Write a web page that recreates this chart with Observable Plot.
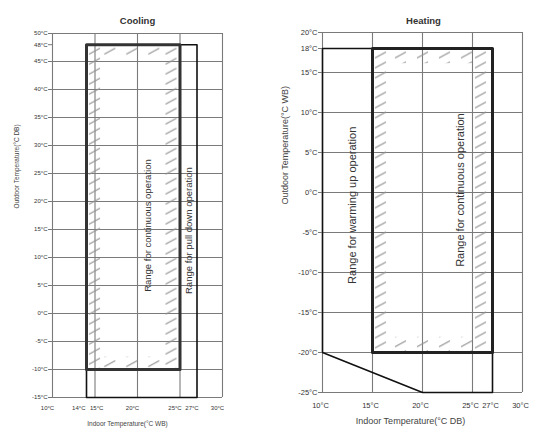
<!DOCTYPE html>
<html>
<head>
<meta charset="utf-8">
<script src="https://cdn.jsdelivr.net/npm/d3@7"></script>
<script src="https://cdn.jsdelivr.net/npm/@observablehq/plot@0.6"></script>
<style>
  html, body { margin: 0; padding: 0; background: #fff; }
  #wrap { position: relative; width: 536px; height: 432px; overflow: hidden; }
  #cool, #heat { position: absolute; top: 0; }
  #cool { left: 0; }
  #heat { left: 268px; }
</style>
</head>
<body>
<div id="wrap"><div id="cool"></div><div id="heat"></div></div>
<script>
// ---------- Cooling data ----------
const coolTitle = "Cooling";
const coolXLabel = "Indoor Temperature(°C WB)";
const coolYLabel = "Outdoor Temperature(°C DB)";
const coolXTicksMid = [10, 20, 25, 27, 30];
const coolXTickLeft = [14];   // label set to the left of its line
const coolXTickRight = [15];  // label set to the right of its line
const coolYTicks = [50, 48, 45, 40, 35, 30, 25, 20, 15, 10, 5, 0, -5, -10, -15];
const coolGridX = [10, 15, 20, 25, 30];
const coolGridY = [50, 45, 40, 35, 30, 25, 20, 15, 10, 5, 0, -5, -10, -15];
const coolContX = [14, 25, 25, 14, 14];
const coolContY = [48, 48, -10, -10, 48];
const coolPullX = [14, 27, 27, 14, 14];
const coolPullY = [48, 48, -15, -15, 48];
const coolHatchX1 = [14, 23, 15.8, 15.8];
const coolHatchX2 = [15.8, 25, 23, 23];
const coolHatchY1 = [-10, -10, 45.8, -10];
const coolHatchY2 = [48, 48, 48, -7.8];
const coolNoteText = ["Range for continuous operation", "Range for pull down operation"];
const coolNoteX = [21.2, 26.0];
const coolNoteY = [15.7, 14.8];

// ---------- Heating data ----------
const heatTitle = "Heating";
const heatXLabel = "Indoor Temperature(°C DB)";
const heatYLabel = "Outdoor Temperature(°C WB)";
const heatXTicks = [10, 15, 20, 25, 27, 30];
const heatYTicks = [20, 18, 15, 10, 5, 0, -5, -10, -15, -20, -25];
const heatGridX = [10, 15, 20, 25, 30];
const heatGridY = [20, 15, 10, 5, 0, -5, -10, -15, -20, -25];
const heatContX = [15, 27, 27, 15, 15];
const heatContY = [18, 18, -20, -20, 18];
const heatWarmX = [10, 27, 27, 20, 10, 10];
const heatWarmY = [18, 18, -25, -25, -20, 18];
const heatHatchX1 = [15, 25, 17, 17];
const heatHatchX2 = [17, 27, 25, 25];
const heatHatchY1 = [-20, -20, 16.1, -20];
const heatHatchY2 = [18, 18, 18, -18.1];
const heatNoteText = ["Range for warming up operation", "Range for continuous operation"];
const heatNoteX = [13.0, 23.8];
const heatNoteY = [-1.6, 0.3];

const FONT = "Liberation Sans, Arial, sans-serif";
const GRID = "#7a7a7a";
const fmt = d => `${d}°C`;
const zipXY = (xs, ys) => xs.map((x, i) => ({x, y: ys[i]}));
const zipRect = (a, b, c, d) => a.map((x1, i) => ({x1, x2: b[i], y1: c[i], y2: d[i]}));
const zipNote = (t, xs, ys) => t.map((text, i) => ({text, x: xs[i], y: ys[i]}));

// one rect mark per hatched strip, each with its own pattern id
function hatchMarks(strips, prefix) {
  return strips.map((s, i) => Plot.rect([s], {x1: "x1", x2: "x2", y1: "y1", y2: "y2", fill: `url(#${prefix}${i})`}));
}

// patterns anchored at each strip's top-left corner (through the chart's own scales)
function addPatterns(svg, strips, prefix) {
  const ns = "http://www.w3.org/2000/svg";
  const sx = svg.scale("x"), sy = svg.scale("y");
  const defs = document.createElementNS(ns, "defs");
  strips.forEach((s, i) => {
    const pat = document.createElementNS(ns, "pattern");
    pat.setAttribute("id", prefix + i);
    pat.setAttribute("patternUnits", "userSpaceOnUse");
    pat.setAttribute("x", sx.apply(s.x1));
    pat.setAttribute("y", sy.apply(s.y2) + 1.5);
    pat.setAttribute("width", "22");
    pat.setAttribute("height", "10");
    const ln = document.createElementNS(ns, "line");
    ln.setAttribute("x1", "3"); ln.setAttribute("y1", "8.5");
    ln.setAttribute("x2", "14"); ln.setAttribute("y2", "2.5");
    ln.setAttribute("stroke", "#929292");
    ln.setAttribute("stroke-width", "1.1");
    pat.appendChild(ln);
    defs.appendChild(pat);
  });
  svg.insertBefore(defs, svg.firstChild);
}

// ---------- Cooling chart ----------
const coolStrips = zipRect(coolHatchX1, coolHatchX2, coolHatchY1, coolHatchY2);
const cool = Plot.plot({
  width: 268, height: 432,
  marginLeft: 52, marginRight: 46, marginTop: 33, marginBottom: 35,
  style: {fontFamily: FONT, color: "#333", background: "#fff"},
  x: {domain: [10, 30]},
  y: {domain: [-15, 50]},
  marks: [
    Plot.ruleX(coolGridX, {stroke: GRID, strokeWidth: 1.1}),
    Plot.ruleY(coolGridY, {stroke: GRID, strokeWidth: 1.1}),
    ...hatchMarks(coolStrips, "hc"),
    Plot.line(zipXY(coolPullX, coolPullY), {x: "x", y: "y", stroke: "#111", strokeWidth: 1.6}),
    Plot.line(zipXY(coolContX, coolContY), {x: "x", y: "y", stroke: "#333", strokeWidth: 3}),
    Plot.axisY(coolYTicks, {tickFormat: fmt, fontSize: 6, tickSize: 4, tickPadding: 1, label: null, stroke: "#777"}),
    Plot.axisX(coolXTicksMid, {tickFormat: fmt, fontSize: 6, tickSize: 0, tickPadding: 8, dx: -5, label: null}),
    Plot.axisX(coolXTickLeft, {tickFormat: fmt, fontSize: 6, tickSize: 0, tickPadding: 8, textAnchor: "end", dx: -1, label: null}),
    Plot.axisX(coolXTickRight, {tickFormat: fmt, fontSize: 6, tickSize: 0, tickPadding: 8, textAnchor: "start", dx: -5, label: null}),
    Plot.text([coolTitle], {frameAnchor: "top", dy: -16, fontSize: 9.5, fontWeight: "bold", fill: "#333"}),
    Plot.text([coolYLabel], {frameAnchor: "left", dx: -36, dy: -7, rotate: -90, fontSize: 6.5, fill: "#444"}),
    Plot.text([coolXLabel], {frameAnchor: "bottom", dx: -10, dy: 28, fontSize: 6.5, fill: "#444"}),
    Plot.text(zipNote(coolNoteText, coolNoteX, coolNoteY), {x: "x", y: "y", text: "text", rotate: -90, fontSize: 9.5, fill: "#333"})
  ]
});
addPatterns(cool, coolStrips, "hc");
document.getElementById("cool").appendChild(cool);

// ---------- Heating chart ----------
const heatStrips = zipRect(heatHatchX1, heatHatchX2, heatHatchY1, heatHatchY2);
const heat = Plot.plot({
  width: 268, height: 432,
  marginLeft: 54, marginRight: 14, marginTop: 32, marginBottom: 40,
  style: {fontFamily: FONT, color: "#333", background: "#fff"},
  x: {domain: [10, 30]},
  y: {domain: [-25, 20]},
  marks: [
    Plot.ruleX(heatGridX, {stroke: GRID, strokeWidth: 1.1}),
    Plot.ruleY(heatGridY, {stroke: GRID, strokeWidth: 1.1}),
    ...hatchMarks(heatStrips, "hh"),
    Plot.line(zipXY(heatWarmX, heatWarmY), {x: "x", y: "y", stroke: "#111", strokeWidth: 1.6}),
    Plot.line(zipXY(heatContX, heatContY), {x: "x", y: "y", stroke: "#222", strokeWidth: 3}),
    Plot.axisY(heatYTicks, {tickFormat: fmt, fontSize: 7.5, tickSize: 4, tickPadding: 1, label: null, stroke: "#777"}),
    Plot.axisX(heatXTicks, {tickFormat: fmt, fontSize: 7.5, tickSize: 0, tickPadding: 10, dx: -2, label: null}),
    Plot.text([heatTitle], {frameAnchor: "top", dx: 1, dy: -15, fontSize: 9.5, fontWeight: "bold", fill: "#333"}),
    Plot.text([heatYLabel], {frameAnchor: "left", dx: -37, dy: -8, rotate: -90, fontSize: 9, fill: "#444"}),
    Plot.text([heatXLabel], {frameAnchor: "bottom", dx: -12, dy: 31, fontSize: 9, fill: "#444"}),
    Plot.text(zipNote(heatNoteText, heatNoteX, heatNoteY), {x: "x", y: "y", text: "text", rotate: -90, fontSize: 11, fill: "#333"})
  ]
});
addPatterns(heat, heatStrips, "hh");
document.getElementById("heat").appendChild(heat);
</script>
</body>
</html>
